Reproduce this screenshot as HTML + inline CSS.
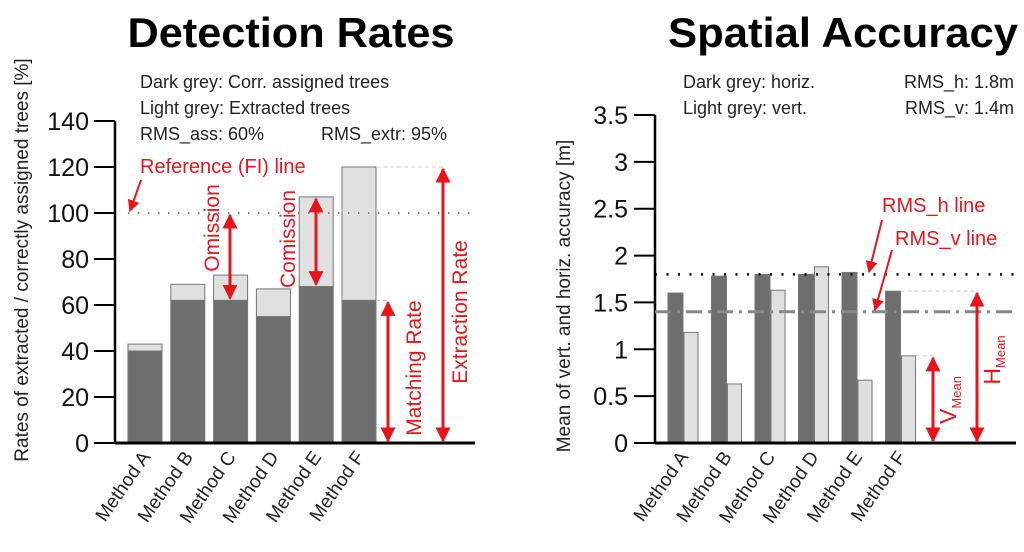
<!DOCTYPE html>
<html><head><meta charset="utf-8"><style>
html,body{margin:0;padding:0;background:#fff;}
svg{display:block;font-family:"Liberation Sans",Arial,sans-serif;}
</style></head><body>
<svg id="c" width="1024" height="552" viewBox="0 0 1024 552" xmlns="http://www.w3.org/2000/svg">
<defs>
<marker id="ah" viewBox="0 0 10 10" refX="9" refY="5" markerWidth="5" markerHeight="5" orient="auto-start-reverse"><path d="M0,0 L10,5 L0,10 z" fill="#e8141c"/></marker>
<marker id="ah2" viewBox="0 0 10 10" refX="9" refY="5" markerWidth="6" markerHeight="6" orient="auto"><path d="M0,0 L10,5 L0,10 z" fill="#e8141c"/></marker>
</defs>
<g id="left"></g>
<g id="right"></g>
</svg>
<script>
const categories = ["Method A","Method B","Method C","Method D","Method E","Method F"];
const assignedRates = [40,62,62,55,68,62];
const extractedRates = [43,69,73,67,107,120];
const leftTicks = [0,20,40,60,80,100,120,140];
const horizAcc = [1.6,1.78,1.8,1.8,1.82,1.62];
const vertAcc = [1.18,0.63,1.63,1.88,0.67,0.93];
const rightTicks = ["0","0.5","1","1.5","2","2.5","3","3.5"];
const rmsH = 1.8, rmsV = 1.4, refLine = 100;

const NS="http://www.w3.org/2000/svg";
function mk(p,tag,a,txt){const e=document.createElementNS(NS,tag);for(const k in a)e.setAttribute(k,a[k]);if(txt!==undefined)e.textContent=txt;p.appendChild(e);return e;}
const RED="#e8141c";

// LEFT
const L=document.getElementById('left');
const ly=v=>443-v*(322/140);
const lx=i=>128+i*42.8;
const lbw=34;
let t=mk(L,'text',{x:291,y:47,'font-size':42,'font-weight':'bold','text-anchor':'middle',fill:'#000','textLength':327,'lengthAdjust':'spacingAndGlyphs'},'Detection Rates');

[["Dark grey: Corr. assigned trees",140,88],["Light grey: Extracted trees",140,114],["RMS_ass: 60%",140,140],["RMS_extr: 95%",321,140]].forEach(d=>{
 const e=mk(L,'text',{x:d[1],y:d[2],'font-size':18,fill:'#222'},d[0]);
 
});
t=mk(L,'text',{transform:'translate(28,260) rotate(-90)','font-size':19,'text-anchor':'middle',fill:'#222'},'Rates of extracted / correctly assigned trees [%]');

leftTicks.forEach(v=>{
 const l=mk(L,'line',{x1:94,x2:115,y1:ly(v),y2:ly(v),stroke:'#000','stroke-width':2});
 
 const e=mk(L,'text',{x:89,y:ly(v)+9,'font-size':25,'text-anchor':'end',fill:'#111'},String(v));
 
});
categories.forEach((c,i)=>{
 const x=lx(i);
 let r=mk(L,'rect',{x:x,y:ly(extractedRates[i]),width:lbw,height:ly(assignedRates[i])-ly(extractedRates[i]),fill:'#e0e0e0',stroke:'#777','stroke-width':1});
 
 r=mk(L,'rect',{x:x,y:ly(assignedRates[i]),width:lbw,height:ly(0)-ly(assignedRates[i]),fill:'#6e6e6e',stroke:'#777','stroke-width':1});
 
 const e=mk(L,'text',{transform:`translate(${x+lbw/2+6},457) rotate(-55)`,'font-size':19,'text-anchor':'end',fill:'#222'},c);
 
});
let a=mk(L,'line',{x1:115,x2:115,y1:ly(140),y2:ly(0),stroke:'#000','stroke-width':2.5});
a=mk(L,'line',{x1:115,x2:475,y1:ly(0),y2:ly(0),stroke:'#000','stroke-width':3});
a=mk(L,'line',{x1:128,x2:475,y1:ly(refLine),y2:ly(refLine),stroke:'#888','stroke-width':2,'stroke-dasharray':'1.5 8.5'});
const lf=lx(5)+lbw;
a=mk(L,'line',{x1:lf,x2:445,y1:ly(extractedRates[5]),y2:ly(extractedRates[5]),stroke:'#ccc','stroke-width':1,'stroke-dasharray':'4 3'});
a=mk(L,'line',{x1:lf,x2:390,y1:ly(assignedRates[5]),y2:ly(assignedRates[5]),stroke:'#ccc','stroke-width':1,'stroke-dasharray':'4 3'});
function arrow(p,x,y1,y2,name){const e=mk(p,'line',{x1:x,x2:x,y1:y1,y2:y2,stroke:RED,'stroke-width':3,'marker-start':'url(#ah)','marker-end':'url(#ah)'});}
arrow(L,230,ly(refLine)+2,ly(assignedRates[2])-2,'omission-arrow');
arrow(L,316,ly(extractedRates[4])+2,ly(assignedRates[4])-2,'commission-arrow');
arrow(L,388,ly(assignedRates[5])+2,ly(0)-2,'matching-rate-arrow');
arrow(L,443,ly(extractedRates[5])+2,ly(0)-2,'extraction-rate-arrow');
function rlab(p,x,y,s,txt,name){const e=mk(p,'text',{transform:`translate(${x},${y}) rotate(-90)`,'font-size':s,'text-anchor':'middle',fill:RED},txt);return e;}
rlab(L,219,228,21,'Omission','omission-label');
rlab(L,295,239,21,'Comission','commission-label');
rlab(L,421,368,21,'Matching Rate','matching-rate-label');
rlab(L,467,312,21,'Extraction Rate','extraction-rate-label');
t=mk(L,'text',{x:140,y:173,'font-size':20,fill:RED},'Reference (FI) line');
a=mk(L,'line',{x1:141,x2:130,y1:180,y2:211,stroke:RED,'stroke-width':2,'marker-end':'url(#ah2)'});

// RIGHT
const R=document.getElementById('right');
const ry=v=>443-v*(328/3.5);
const rx=i=>668+i*43.5;
const rbw=15;
t=mk(R,'text',{x:843,y:47,'font-size':42,'font-weight':'bold','text-anchor':'middle',fill:'#000','textLength':350,'lengthAdjust':'spacingAndGlyphs'},'Spatial Accuracy');

[["Dark grey: horiz.",88,683,'start'],["Light grey: vert.",114,683,'start'],["RMS_h: 1.8m",88,1014,'end'],["RMS_v: 1.4m",114,1014,'end']].forEach(d=>{
 const e=mk(R,'text',{x:d[2],y:d[1],'font-size':18,fill:'#222','text-anchor':d[3]},d[0]);
 
});
t=mk(R,'text',{transform:'translate(570,296) rotate(-90)','font-size':19,'text-anchor':'middle',fill:'#222'},'Mean of vert. and horiz. accuracy [m]');

rightTicks.forEach(s=>{
 const v=parseFloat(s);
 const l=mk(R,'line',{x1:634,x2:655,y1:ry(v),y2:ry(v),stroke:'#000','stroke-width':2});
 
 const e=mk(R,'text',{x:628,y:ry(v)+9,'font-size':25,'text-anchor':'end',fill:'#111'},s);
 
});
categories.forEach((c,i)=>{
 const x=rx(i);
 let r=mk(R,'rect',{x:x,y:ry(horizAcc[i]),width:rbw,height:ry(0)-ry(horizAcc[i]),fill:'#6e6e6e',stroke:'#777','stroke-width':1});
 
 r=mk(R,'rect',{x:x+rbw+1,y:ry(vertAcc[i]),width:rbw-1,height:ry(0)-ry(vertAcc[i]),fill:'#e0e0e0',stroke:'#777','stroke-width':1});
 
 const e=mk(R,'text',{transform:`translate(${x+rbw+6},457) rotate(-55)`,'font-size':19,'text-anchor':'end',fill:'#222'},c);
 
});
a=mk(R,'line',{x1:655,x2:655,y1:ry(3.5),y2:ry(0),stroke:'#000','stroke-width':2.5});
a=mk(R,'line',{x1:655,x2:1016,y1:ry(0),y2:ry(0),stroke:'#000','stroke-width':3});
a=mk(R,'line',{x1:655,x2:1016,y1:ry(rmsH),y2:ry(rmsH),stroke:'#000','stroke-width':2.5,'stroke-dasharray':'2 9.5'});
a=mk(R,'line',{x1:655,x2:1016,y1:ry(rmsV),y2:ry(rmsV),stroke:'#888','stroke-width':3,'stroke-dasharray':'16 6 3 6'});
const rf=rx(5)+2*rbw;
a=mk(R,'line',{x1:rx(5)+rbw,x2:978,y1:ry(horizAcc[5]),y2:ry(horizAcc[5]),stroke:'#ccc','stroke-width':1,'stroke-dasharray':'4 3'});
a=mk(R,'line',{x1:rf,x2:934,y1:ry(vertAcc[5]),y2:ry(vertAcc[5]),stroke:'#ccc','stroke-width':1,'stroke-dasharray':'4 3'});
arrow(R,933,ry(vertAcc[5])+2,ry(0)-2,'vmean-arrow');
arrow(R,977,ry(horizAcc[5])+2,ry(0)-2,'hmean-arrow');
t=mk(R,'text',{transform:'translate(956,400) rotate(-90)','font-size':23,'text-anchor':'middle',fill:RED});

t.innerHTML='V<tspan font-size="13" dy="5">Mean</tspan>';
t=mk(R,'text',{transform:'translate(1000,360) rotate(-90)','font-size':23,'text-anchor':'middle',fill:RED});

t.innerHTML='H<tspan font-size="13" dy="5">Mean</tspan>';
t=mk(R,'text',{x:882,y:212,'font-size':20,fill:RED},'RMS_h line');
t=mk(R,'text',{x:895,y:245,'font-size':20,fill:RED},'RMS_v line');
a=mk(R,'line',{x1:882,x2:869,y1:220,y2:272,stroke:RED,'stroke-width':2,'marker-end':'url(#ah2)'});
a=mk(R,'line',{x1:892,x2:875,y1:250,y2:310,stroke:RED,'stroke-width':2,'marker-end':'url(#ah2)'});
</script>
</body></html>
